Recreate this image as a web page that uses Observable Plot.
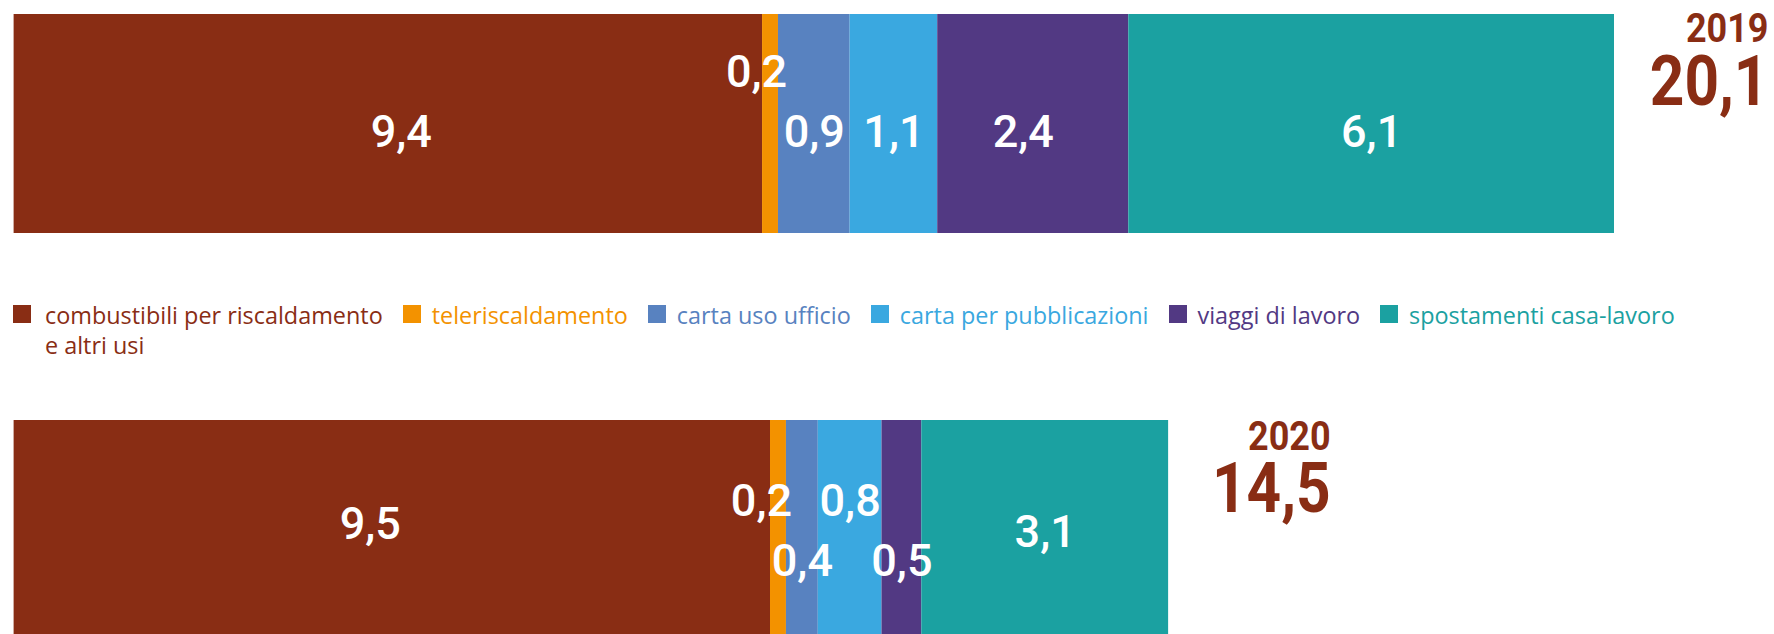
<!DOCTYPE html>
<html>
<head>
<meta charset="utf-8">
<script src="https://cdn.jsdelivr.net/npm/d3@7"></script>
<script src="https://cdn.jsdelivr.net/npm/@observablehq/plot@0.6"></script>
<style>
  html, body { margin: 0; padding: 0; background: #fff; overflow: hidden; }
  #root { width: 1774px; }
  .legend { display: flex; align-items: flex-start; padding: 50px 0 0 13px; height: 60px; font-family: "Open Sans", Lato, sans-serif; font-size: 23.4px; line-height: 30px; }
  .item { display: flex; align-items: flex-start; margin-right: 20px; }
  .sw { width: 18px; height: 18px; margin-top: 5px; margin-right: 11px; flex: none; }
  .item:first-child .sw { margin-right: 14px; }
  .lab { white-space: pre-line; }
  svg { display: block; }
</style>
</head>
<body>
<div id="root"></div>
<script>
// ---- data ----
const years = ["2019", "2020"];
const categories = [
  "combustibili per riscaldamento\ne altri usi",
  "teleriscaldamento",
  "carta uso ufficio",
  "carta per pubblicazioni",
  "viaggi di lavoro",
  "spostamenti casa-lavoro"
];
const values2019 = [9.4, 0.2, 0.9, 1.1, 2.4, 6.1];
const values2020 = [9.5, 0.2, 0.4, 0.8, 0.5, 3.1];
const totals = [20.1, 14.5];
const colors = ["#892D14", "#F39200", "#5882C0", "#3AA8E0", "#523983", "#1BA1A1"];

// ---- layout (styles / offsets, not data) ----
const labelOffsets = {
  "2019": [[13, 9], [-14, -51], [0, 9], [0, 9], [-10, 9], [0, 9]],
  "2020": [[-22, -5], [-17, -28], [0, 32], [0, -28], [0, 32], [0, 3]]
};
const totalDx = {"2019": 154, "2020": 162};
const locale = d3.formatLocale({decimal: ",", thousands: ".", grouping: [3], currency: ["€", ""]});
const fmt = locale.format(".1f");

function rowsFor(year, values) {
  const ends = d3.cumsum(values);
  return values.map((v, i) => ({
    year, category: categories[i], value: v,
    mid: ends[i] - v / 2, label: fmt(v), i
  }));
}

function condense(svg, count, scales) {
  const groups = Array.from(svg.querySelectorAll('g[aria-label="text"]')).slice(-count);
  groups.forEach((g, gi) => {
    g.querySelectorAll("text").forEach(t => {
      const tr = t.getAttribute("transform");
      if (tr) {
        t.setAttribute("transform", tr + ` scale(${scales[gi]},1)`);
      } else {
        const x = t.getAttribute("x") || 0, y = t.getAttribute("y") || 0;
        t.removeAttribute("x"); t.removeAttribute("y");
        t.setAttribute("transform", `translate(${x},${y}) scale(${scales[gi]},1)`);
      }
    });
  });
}

function chart(yi, height, y0) {
  const year = years[yi];
  const rows = rowsFor(year, yi === 0 ? values2019 : values2020);
  const total = [{year, total: totals[yi], label: fmt(totals[yi])}];
  const offs = labelOffsets[year];
  const textMarks = rows.map((r, i) => Plot.text([r], {
    x: "mid", y: "year", text: "label", fill: "white",
    fontSize: 45, fontWeight: 500, fontFamily: "Roboto, sans-serif",
    dx: offs[i][0], dy: offs[i][1]
  }));
  const svg = Plot.plot({
    width: 1774, height,
    marginLeft: 13.6, marginRight: 160, marginTop: 0, marginBottom: 0,
    x: {domain: [0, d3.max(totals)], axis: null},
    y: {domain: [year], range: [y0, y0 + 219.6], padding: 0, axis: null},
    color: {domain: categories, range: colors},
    style: {background: "transparent", overflow: "visible"},
    marks: [
      Plot.barX(rows, {x: "value", y: "year", fill: "category"}),
      ...textMarks,
      Plot.text(total, {x: "total", y: "year", text: d => d.year, textAnchor: "end",
        dx: totalDx[year], dy: yi === 0 ? -95 : -93, fill: "#892D14",
        fontSize: 40, fontWeight: 700, fontFamily: "Roboto, sans-serif"}),
      Plot.text(total, {x: "total", y: "year", text: "label", textAnchor: "end",
        dx: totalDx[year], dy: yi === 0 ? -42 : -41, fill: "#892D14",
        fontSize: 71, fontWeight: 700, fontFamily: "Roboto, sans-serif"})
    ]
  });
  condense(svg, 2, [0.9, 0.85]);
  return svg;
}

const root = document.getElementById("root");
root.appendChild(chart(0, 250, 13.6));

const legend = document.createElement("div");
legend.className = "legend";
categories.forEach((c, i) => {
  const it = document.createElement("div");
  it.className = "item";
  const sw = document.createElement("div");
  sw.className = "sw";
  sw.style.background = colors[i];
  const lab = document.createElement("div");
  lab.className = "lab";
  lab.style.color = colors[i];
  lab.textContent = c;
  it.appendChild(sw); it.appendChild(lab);
  legend.appendChild(it);
});
root.appendChild(legend);

root.appendChild(chart(1, 274, 60));
</script>
</body>
</html>
